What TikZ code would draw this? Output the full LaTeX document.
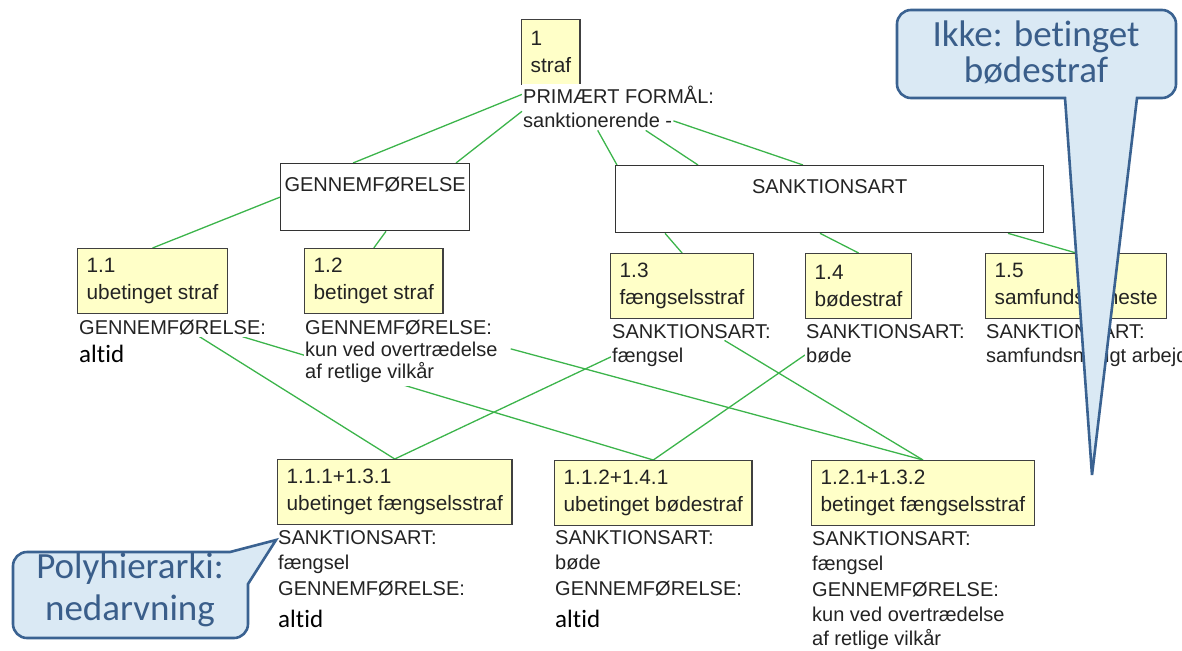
\documentclass[tikz,border=0pt]{standalone}
\usepackage{fontspec}
\setmainfont{Liberation Sans}
\newfontfamily\calibri[Ligatures=NoCommon]{Carlito}
\usepackage{xcolor}

\definecolor{boksgul}{RGB}{255,255,200}
\definecolor{bokskant}{RGB}{64,64,64}
\definecolor{tekstgraa}{RGB}{35,35,35}
\definecolor{kantgroen}{RGB}{60,180,75}
\definecolor{taleblaa}{RGB}{218,233,244}
\definecolor{talekant}{RGB}{58,98,145}
\definecolor{talefarve}{RGB}{58,94,138}

\pgfdeclarelayer{bag}
\pgfsetlayers{bag,main}

\begin{document}
\begin{tikzpicture}[x=1pt, y=-1pt,
  klasse/.style={draw=bokskant, fill=boksgul, line width=1.3pt, anchor=north west, align=left,
    inner xsep=9pt, minimum height=65pt, text=tekstgraa, font=\fontsize{20.8}{27}\selectfont},
  abstrakt/.style={draw=black!80, fill=white, line width=1.3pt, anchor=north west, inner sep=0pt,
    text height=28pt, text depth=39pt, text=tekstgraa, font=\fontsize{20}{22}\selectfont},
  egenskab/.style={anchor=base west, inner xsep=1pt, inner ysep=2pt, fill=white, text=tekstgraa,
    font=\fontsize{20}{22}\selectfont},
  vaerdi/.style={anchor=base west, inner sep=1pt, fill=white, text=black, font=\calibri\fontsize{25}{28}\selectfont},
  kant/.style={draw=kantgroen, line width=1.3pt},
  taleboble/.style={draw=talekant, fill=taleblaa, line width=2.6pt},
  taletekst/.style={anchor=base, inner sep=0pt, text=talefarve, font=\calibri\fontsize{37}{40}\selectfont}]
  \useasboundingbox (0,0) rectangle (1182,650);
  \clip (0,0) rectangle (1182,650);

  % top class
  \node[klasse] (k1) at (521,19) {1\\straf};
  \node[egenskab] (p1) at (522,103) {PRIMÆRT FORMÅL:};
  \node[egenskab] (p2) at (522,128) {sanktionerende -};

  % dimensions
  \node[abstrakt, minimum width=189pt] (gen) at (280,163) {GENNEMFØRELSE};
  \node[abstrakt, minimum width=428pt] (san) at (615,165) {SANKTIONSART};

  % first level
  \node[klasse] (k11) at (77,248) {1.1\\ubetinget straf};
  \node[klasse] (k12) at (304,248) {1.2\\betinget straf};
  \node[klasse] (k13) at (610,253) {1.3\\fængselsstraf};
  \node[klasse] (k14) at (805,253) {1.4\\bødestraf};
  \node[klasse] (k15) at (985,253) {1.5\\samfundstjeneste};

  \node[egenskab] (a11) at (78,334) {GENNEMFØRELSE:};
  \node[vaerdi] (v11) at (78,362) {altid};
  \node[egenskab] (a12) at (304,334) {GENNEMFØRELSE:};
  \node[egenskab, inner ysep=3.5pt] (v12a) at (304,356) {kun ved overtrædelse};
  \node[egenskab, inner ysep=3.5pt] (v12b) at (304,378) {af retlige vilkår};
  \node[egenskab] (a13) at (611,338) {SANKTIONSART:};
  \node[egenskab] (v13) at (611,362) {fængsel};
  \node[egenskab] (a14) at (805,338) {SANKTIONSART:};
  \node[egenskab] (v14) at (805,362) {bøde};
  \node[egenskab] (a15) at (985,338) {SANKTIONSART:};
  \node[egenskab] (v15) at (985,362) {samfundsnyttigt arbejde};

  % second level
  \node[klasse] (k111) at (277,459) {1.1.1+1.3.1\\ubetinget fængselsstraf};
  \node[klasse] (k112) at (554,460) {1.1.2+1.4.1\\ubetinget bødestraf};
  \node[klasse] (k121) at (811,460) {1.2.1+1.3.2\\betinget fængselsstraf};

  \node[egenskab] (b111a) at (277,544) {SANKTIONSART:};
  \node[egenskab] (b111b) at (277,569) {fængsel};
  \node[egenskab] (b111c) at (277,595) {GENNEMFØRELSE:};
  \node[vaerdi] (b111d) at (277,627) {altid};

  \node[egenskab] (b112a) at (554,544) {SANKTIONSART:};
  \node[egenskab] (b112b) at (554,569) {bøde};
  \node[egenskab] (b112c) at (554,595) {GENNEMFØRELSE:};
  \node[vaerdi] (b112d) at (554,627) {altid};

  \node[egenskab] (b121a) at (811,545) {SANKTIONSART:};
  \node[egenskab] (b121b) at (811,570) {fængsel};
  \node[egenskab] (b121c) at (811,596) {GENNEMFØRELSE:};
  \node[egenskab] (b121d) at (811,621) {kun ved overtrædelse};
  \node[egenskab] (b121e) at (811,645) {af retlige vilkår};

  % green lines behind the texts
  \begin{pgfonlayer}{bag}
    \draw[kant] (p1.west) -- ([xshift=73pt]gen.north west);
    \draw[kant] (p2.north west) -- ([xshift=176pt]gen.north west);
    \draw[kant] (p2.south) -- ([xshift=2pt]san.north west);
    \draw[kant] ([xshift=48pt]p2.south) -- ([xshift=83pt]san.north west);
    \draw[kant] (p2.east) -- ([xshift=188pt]san.north west);
    \draw[kant] (gen.west) -- (k11.north);
    \draw[kant] ([xshift=106pt]gen.south west) -- (k12.north);
    \draw[kant] ([xshift=50pt]san.south west) -- (k13.north);
    \draw[kant] ([xshift=205pt]san.south west) -- (k14.north);
    \draw[kant] ([xshift=393pt]san.south west) -- (k15.north);
    % inheritance
    \draw[kant] ([xshift=27pt]a11.south) -- (k111.north);
    \draw[kant] ([xshift=70pt]a11.south) -- (k112.north);
    \draw[kant] (v13.west) -- (k111.north);
    \draw[kant] (v14.west) -- (k112.north);
    \draw[kant] ([xshift=12pt]v12a.east) -- (k121.north);
    \draw[kant] ([xshift=33pt]a13.south) -- (k121.north);
  \end{pgfonlayer}

  % callouts
  \draw[taleboble] (1065,98) -- (911,98) arc[start angle=270, end angle=180, radius=14pt]
    -- (897,24) arc[start angle=180, end angle=90, radius=14pt]
    -- (1162,10) arc[start angle=90, end angle=0, radius=14pt]
    -- (1176,84) arc[start angle=0, end angle=-90, radius=14pt]
    -- (1137,98) -- (1092,475) -- cycle;
  \node[taletekst] (t1) at (1036,47) {Ikke: betinget};
  \node[taletekst] (t2) at (1036,83) {bødestraf};

  \draw[taleboble] (230,552) -- (27,552) arc[start angle=90, end angle=180, radius=14pt]
    -- (13,624) arc[start angle=180, end angle=270, radius=14pt]
    -- (234,638) arc[start angle=270, end angle=360, radius=14pt]
    -- (248,584) -- (276,540) -- cycle;
  \node[taletekst] (t3) at (130,578) {Polyhierarki:};
  \node[taletekst] (t4) at (130,620) {nedarvning};
\end{tikzpicture}
\end{document}
